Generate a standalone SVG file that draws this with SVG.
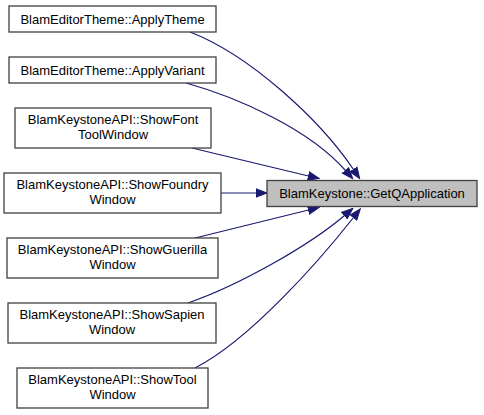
<svg xmlns="http://www.w3.org/2000/svg" width="484" height="415" viewBox="0 0 484 415">
<style>
.n rect{fill:#ffffff;stroke:#404040;stroke-width:1.3}
.n.main rect{fill:#bfbfbf}
text{font-family:"Liberation Sans",Arial,sans-serif;font-size:13px;fill:#000;text-anchor:middle}
.e path{fill:none;stroke:#191970;stroke-width:1.2;marker-end:url(#arr)}
</style>
<defs>
<marker id="arr" viewBox="0 0 12 10" refX="0.5" refY="5" markerWidth="12" markerHeight="10" markerUnits="userSpaceOnUse" orient="auto">
<path d="M0.5,0.8 L11.5,5 L0.5,9.2 Z" fill="#191970" stroke="#191970" stroke-width="1"/>
</marker>
</defs>
<rect width="484" height="415" fill="#ffffff"/>
<g class="e" id="edges">
<path d="M190,32 C250,55 320,120 353.5,169.5"/>
<path d="M186,83 C240,98 310,130 345.5,170.5"/>
<path d="M192,148 C230,157 270,167 308.5,176"/>
<path d="M221,193 L256,193"/>
<path d="M195,238 C235,228 275,218 308.5,210"/>
<path d="M188,303 C240,285 310,245 344.5,215.5"/>
<path d="M195,368 C250,340 320,260 353.5,217.5"/>
</g>
<g class="n main" id="node-getqapplication">
<rect x="267" y="180.5" width="210" height="26"/>
<text x="372" y="198">BlamKeystone::GetQApplication</text>
</g>
<g class="n" id="node-applytheme">
<rect x="9" y="6" width="207" height="26"/>
<text x="112.5" y="23.5">BlamEditorTheme::ApplyTheme</text>
</g>
<g class="n" id="node-applyvariant">
<rect x="9" y="57" width="207" height="26"/>
<text x="112.5" y="74.5">BlamEditorTheme::ApplyVariant</text>
</g>
<g class="n" id="node-showfont">
<rect x="15" y="108" width="196" height="40"/>
<text x="113" y="124">BlamKeystoneAPI::ShowFont</text>
<text x="113" y="139">ToolWindow</text>
</g>
<g class="n" id="node-showfoundry">
<rect x="4" y="173" width="217" height="40"/>
<text x="112.5" y="189">BlamKeystoneAPI::ShowFoundry</text>
<text x="112.5" y="204">Window</text>
</g>
<g class="n" id="node-showguerilla">
<rect x="7" y="238" width="211" height="40"/>
<text x="112.5" y="254">BlamKeystoneAPI::ShowGuerilla</text>
<text x="112.5" y="269">Window</text>
</g>
<g class="n" id="node-showsapien">
<rect x="8" y="303" width="208" height="40"/>
<text x="112" y="319">BlamKeystoneAPI::ShowSapien</text>
<text x="112" y="334">Window</text>
</g>
<g class="n" id="node-showtool">
<rect x="17" y="368" width="191" height="40"/>
<text x="112.5" y="384">BlamKeystoneAPI::ShowTool</text>
<text x="112.5" y="399">Window</text>
</g>
</svg>
